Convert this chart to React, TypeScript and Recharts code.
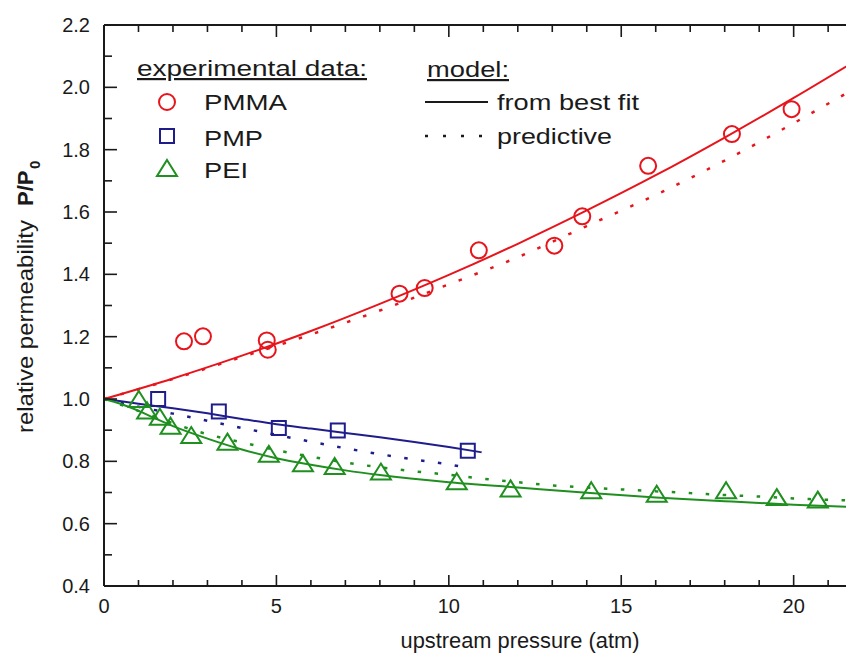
import React from "react";
import { ComposedChart, Line, Scatter, XAxis, YAxis } from "recharts";

const FONT = '"Liberation Sans", Arial, Helvetica, sans-serif';
const INK = "#1a1a1a";
const RED = "#e8141c";
const BLUE = "#1f1d8c";
const GREEN = "#1f8f1f";

// experimental data
const pmmaP = [2.32, 2.87, 4.72, 4.75, 8.57, 9.3, 10.87, 13.06, 13.87, 15.78, 18.21, 19.94];
const pmmaRel = [1.185, 1.201, 1.188, 1.158, 1.338, 1.356, 1.477, 1.492, 1.586, 1.748, 1.85, 1.93];
const pmpP = [1.57, 3.33, 5.07, 6.78, 10.55];
const pmpRel = [1.0, 0.96, 0.907, 0.899, 0.834];
const peiP = [1.01, 1.25, 1.62, 1.93, 2.53, 3.58, 4.78, 5.77, 6.69, 8.03, 10.23, 11.79, 14.13, 16.03, 18.04, 19.51, 20.7];
const peiRel = [0.997, 0.96, 0.94, 0.911, 0.881, 0.86, 0.821, 0.791, 0.782, 0.764, 0.733, 0.71, 0.704, 0.693, 0.704, 0.682, 0.674];

// model curves
const pmmaCurveP = [0, 2, 4, 6, 8, 10, 12, 14, 16, 18, 20, 21.75];
const pmmaFit = [1.0, 1.066, 1.139, 1.218, 1.305, 1.398, 1.498, 1.605, 1.718, 1.839, 1.966, 2.082];
const pmmaPred = [1.0, 1.064, 1.135, 1.207, 1.284, 1.368, 1.455, 1.555, 1.655, 1.765, 1.885, 1.995];

const pmpFitP = [0, 1, 2, 3, 4, 5, 6, 7, 8, 9, 10, 10.95];
const pmpFit = [1.0, 0.985, 0.97, 0.954, 0.936, 0.919, 0.905, 0.891, 0.877, 0.862, 0.846, 0.829];
const pmpPredP = [0, 1, 2, 3, 4, 5, 6, 7, 8, 9, 10, 10.6];
const pmpPred = [1.0, 0.975, 0.953, 0.93, 0.907, 0.885, 0.863, 0.842, 0.823, 0.806, 0.79, 0.778];

const peiFitP = [0, 0.5, 1, 1.5, 2, 3, 4, 5, 6, 7, 8, 10, 12, 14, 16, 18, 20, 21.75];
const peiFit = [1.0, 0.984, 0.962, 0.937, 0.913, 0.873, 0.838, 0.81, 0.789, 0.771, 0.756, 0.733, 0.716, 0.699, 0.684, 0.672, 0.661, 0.653];
const peiPredP = [0, 1, 2, 3, 4, 5, 6, 7, 8, 9, 10, 11, 12, 13, 14, 15, 16, 17, 18, 19, 20, 21.75];
const peiPred = [1.0, 0.962, 0.922, 0.887, 0.861, 0.836, 0.815, 0.796, 0.781, 0.768, 0.757, 0.744, 0.733, 0.723, 0.716, 0.71, 0.704, 0.698, 0.692, 0.687, 0.681, 0.674];

// axes (majors get a label, the rest are minor ticks)
const xTicks = [0, 1, 2, 3, 4, 5, 6, 7, 8, 9, 10, 11, 12, 13, 14, 15, 16, 17, 18, 19, 20, 21];
const yTicks = [0.4, 0.5, 0.6, 0.7, 0.8, 0.9, 1.0, 1.1, 1.2, 1.3, 1.4, 1.5, 1.6, 1.7, 1.8, 1.9, 2.0, 2.1, 2.2];
const X_DOMAIN: [number, number] = [0, 21.75];
const Y_DOMAIN: [number, number] = [0.4, 2.2];

const CHART_W = 846;
const CHART_H = 652;
const PLOT_TOP = 17;
const PLOT_BOTTOM = 578;
const PLOT_LEFT = 96;

const zip = (xs: number[], ys: number[]) => xs.map((x, i) => ({ x, y: ys[i] }));
const isMajorX = (v: number) => v % 5 === 0;
const isMajorY = (v: number) => Math.round(v * 10) % 2 === 0;

// tick marks placed through the chart scales
const bottomTickData = zip(xTicks, xTicks.map(() => Y_DOMAIN[0]));
const topTickData = zip(xTicks, xTicks.map(() => Y_DOMAIN[1]));
const leftTickData = zip(yTicks.map(() => X_DOMAIN[0]), yTicks);
const frameTop = zip(X_DOMAIN, [Y_DOMAIN[1], Y_DOMAIN[1]]);

const Circle = ({ cx, cy }: any) => (
  <circle cx={cx} cy={cy} r={8} fill="none" stroke={RED} strokeWidth={2} />
);
const Square = ({ cx, cy }: any) => (
  <rect x={cx - 7} y={cy - 7} width={14} height={14} fill="none" stroke={BLUE} strokeWidth={2} />
);
const Triangle = ({ cx, cy }: any) => (
  <polygon
    points={`${cx},${cy - 9} ${cx + 10},${cy + 7} ${cx - 10},${cy + 7}`}
    fill="none"
    stroke={GREEN}
    strokeWidth={2}
  />
);

const BottomTick = ({ cx, cy, payload }: any) => {
  const len = isMajorX(payload.x) ? 11 : 6;
  return <line x1={cx} x2={cx} y1={cy} y2={cy - len} stroke={INK} strokeWidth={1.6} />;
};
const TopTick = ({ cx, cy, payload }: any) => {
  const len = isMajorX(payload.x) ? 12 : 7;
  return <line x1={cx} x2={cx} y1={cy} y2={cy + len} stroke={INK} strokeWidth={1.6} />;
};
const LeftTick = ({ cx, cy, payload }: any) => {
  const len = isMajorY(payload.y) ? 13 : 8;
  return <line x1={cx} x2={cx + len} y1={cy} y2={cy} stroke={INK} strokeWidth={1.6} />;
};

// tick labels
const XTick = ({ x, payload }: any) => {
  const v = payload.value as number;
  if (!isMajorX(v)) return <g />;
  return (
    <text x={x} y={PLOT_BOTTOM + 27} textAnchor="middle" fontSize={20} fontFamily={FONT} fill={INK}>
      {v}
    </text>
  );
};

const YTick = ({ y, payload }: any) => {
  const v = payload.value as number;
  if (!isMajorY(v)) return <g />;
  return (
    <text x={PLOT_LEFT - 14} y={y + 7} textAnchor="end" fontSize={20} fontFamily={FONT} fill={INK}>
      {v.toFixed(1)}
    </text>
  );
};

// legend and axis titles, rendered through the x-axis label slot
const Decorations = () => (
  <g fontFamily={FONT} fill={INK}>
    <text x={129} y={68} fontSize={22} textLength={230} lengthAdjust="spacingAndGlyphs" textDecoration="underline">
      experimental data:
    </text>
    <Circle cx={159} cy={94} />
    <text x={196} y={102} fontSize={22} textLength={83} lengthAdjust="spacingAndGlyphs">PMMA</text>
    <Square cx={159} cy={128} />
    <text x={196} y={138} fontSize={22} textLength={59} lengthAdjust="spacingAndGlyphs">PMP</text>
    <Triangle cx={159} cy={161} />
    <text x={196} y={170} fontSize={22} textLength={44} lengthAdjust="spacingAndGlyphs">PEI</text>

    <text x={419} y={69} fontSize={22} textLength={82} lengthAdjust="spacingAndGlyphs" textDecoration="underline">
      model:
    </text>
    <line x1={417} y1={94} x2={480} y2={94} stroke={INK} strokeWidth={2} />
    <text x={489} y={102} fontSize={22} textLength={142} lengthAdjust="spacingAndGlyphs">from best fit</text>
    <line x1={417} y1={128} x2={478} y2={128} stroke={INK} strokeWidth={2.5} strokeDasharray="3 15" />
    <text x={489} y={136} fontSize={22} textLength={115} lengthAdjust="spacingAndGlyphs">predictive</text>

    <text x={512} y={640} fontSize={22} textAnchor="middle" textLength={239} lengthAdjust="spacingAndGlyphs">
      upstream pressure (atm)
    </text>
    <text transform="translate(25,425) rotate(-90)" fontSize={22}>
      <tspan x={0} textLength={213} lengthAdjust="spacingAndGlyphs">relative permeability</tspan>
      <tspan x={227} fontWeight="bold">P/P</tspan>
      <tspan x={264} dy={7} fontWeight="bold" fontSize={15}>0</tspan>
    </text>
  </g>
);

const axisLine = { stroke: INK, strokeWidth: 2 };
const DOTS = "3.5 13.5";

export default function App() {
  return (
    <div style={{ width: CHART_W, height: CHART_H }}>
      <ComposedChart width={CHART_W} height={CHART_H} margin={{ top: PLOT_TOP, right: 0, bottom: 0, left: 0 }}>
        <XAxis
          xAxisId="main"
          dataKey="x"
          type="number"
          domain={X_DOMAIN}
          ticks={xTicks}
          interval={0}
          height={CHART_H - PLOT_BOTTOM}
          tickSize={0}
          tickMargin={0}
          tick={<XTick />}
          tickLine={false}
          axisLine={axisLine}
          label={<Decorations />}
        />
        <YAxis
          yAxisId="main"
          type="number"
          domain={Y_DOMAIN}
          ticks={yTicks}
          interval={0}
          width={PLOT_LEFT}
          tickSize={0}
          tickMargin={0}
          tick={<YTick />}
          tickLine={false}
          axisLine={axisLine}
        />

        {/* frame top and inward tick marks */}
        <Line xAxisId="main" yAxisId="main" data={frameTop} dataKey="y" type="linear"
          stroke={INK} strokeWidth={2} dot={false} activeDot={false} isAnimationActive={false} />
        <Scatter xAxisId="main" yAxisId="main" data={bottomTickData} dataKey="y" shape={BottomTick} isAnimationActive={false} />
        <Scatter xAxisId="main" yAxisId="main" data={topTickData} dataKey="y" shape={TopTick} isAnimationActive={false} />
        <Scatter xAxisId="main" yAxisId="main" data={leftTickData} dataKey="y" shape={LeftTick} isAnimationActive={false} />

        <Line xAxisId="main" yAxisId="main" data={zip(pmmaCurveP, pmmaPred)} dataKey="y" type="monotone"
          stroke={RED} strokeWidth={2.5} strokeDasharray={DOTS} dot={false} activeDot={false} isAnimationActive={false} />
        <Line xAxisId="main" yAxisId="main" data={zip(pmpPredP, pmpPred)} dataKey="y" type="monotone"
          stroke={BLUE} strokeWidth={2.5} strokeDasharray={DOTS} dot={false} activeDot={false} isAnimationActive={false} />
        <Line xAxisId="main" yAxisId="main" data={zip(peiPredP, peiPred)} dataKey="y" type="monotone"
          stroke={GREEN} strokeWidth={2.5} strokeDasharray={DOTS} dot={false} activeDot={false} isAnimationActive={false} />

        <Line xAxisId="main" yAxisId="main" data={zip(pmmaCurveP, pmmaFit)} dataKey="y" type="monotone"
          stroke={RED} strokeWidth={2} dot={false} activeDot={false} isAnimationActive={false} />
        <Line xAxisId="main" yAxisId="main" data={zip(pmpFitP, pmpFit)} dataKey="y" type="monotone"
          stroke={BLUE} strokeWidth={2} dot={false} activeDot={false} isAnimationActive={false} />
        <Line xAxisId="main" yAxisId="main" data={zip(peiFitP, peiFit)} dataKey="y" type="monotone"
          stroke={GREEN} strokeWidth={2} dot={false} activeDot={false} isAnimationActive={false} />

        <Scatter xAxisId="main" yAxisId="main" data={zip(pmmaP, pmmaRel)} dataKey="y" shape={Circle} isAnimationActive={false} />
        <Scatter xAxisId="main" yAxisId="main" data={zip(pmpP, pmpRel)} dataKey="y" shape={Square} isAnimationActive={false} />
        <Scatter xAxisId="main" yAxisId="main" data={zip(peiP, peiRel)} dataKey="y" shape={Triangle} isAnimationActive={false} />
      </ComposedChart>
    </div>
  );
}
